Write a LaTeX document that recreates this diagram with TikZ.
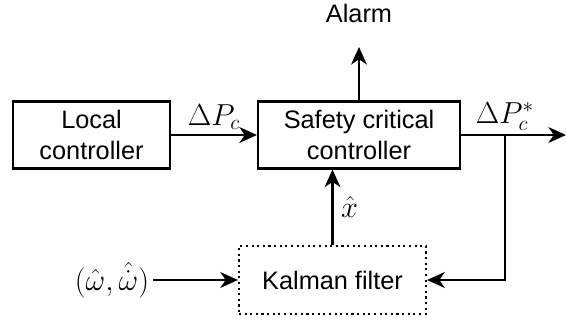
\documentclass[tikz,border=0pt]{standalone}
\usepackage{fontspec}
\setmainfont{Liberation Sans}
\usepackage{amsmath}
\usepackage{tikz}
\usetikzlibrary{arrows.meta,positioning,calc}

\begin{document}
\begin{tikzpicture}[
  block/.style={
    draw, line width=1.2pt, minimum width=3.14cm, minimum height=1.34cm,
    font=\Large, align=center, inner sep=1pt
  },
  arr/.style={-{Stealth[length=10pt,width=9pt,inset=3pt]}, line width=1.2pt},
  lbl/.style={font=\Large},
  mlbl/.style={font=\LARGE}
]
\useasboundingbox (0,0) rectangle (11.32,6.44);

% Local controller
\node[block] (local) at (1.83,3.74) {Local\\controller};

% Safety critical controller
\node[block, minimum width=4.04cm] (safe) at (7.18,3.74)
  {Safety critical\\controller};

% Kalman filter
\node[block, dotted, minimum width=3.74cm, minimum height=1.36cm] (kal)
  at (6.65,0.84) {Kalman filter};

% Alarm and output ends
\node[lbl] (alarm) at (7.18,6.18) {Alarm};
\coordinate (alarmtip) at (7.18,5.5);
\coordinate (branch) at (10.1,3.74);
\coordinate (out) at (11.32,3.74);

% Input estimate
\node[mlbl, inner sep=2pt] (inp) at (2.24,0.84) {$(\hat{\omega},\hat{\dot{\omega}})$};

% Signals
\draw[arr] (local.east) -- (safe.west)
  node[midway, above=-1pt, mlbl] {$\Delta P_c$};
\draw[arr] (safe.north) -- (alarmtip);
\draw[arr] (safe.east) -- (out);
\node[mlbl, above=-1pt of branch] {$\Delta P_c^{*}$};
\draw[arr] (branch) |- (kal.east);
\draw[arr] (kal.north) -- (kal.north |- safe.south)
  node[midway, right=1pt, mlbl] {$\hat{x}$};
\draw[arr] (inp.east) -- (kal.west);

\end{tikzpicture}
\end{document}
